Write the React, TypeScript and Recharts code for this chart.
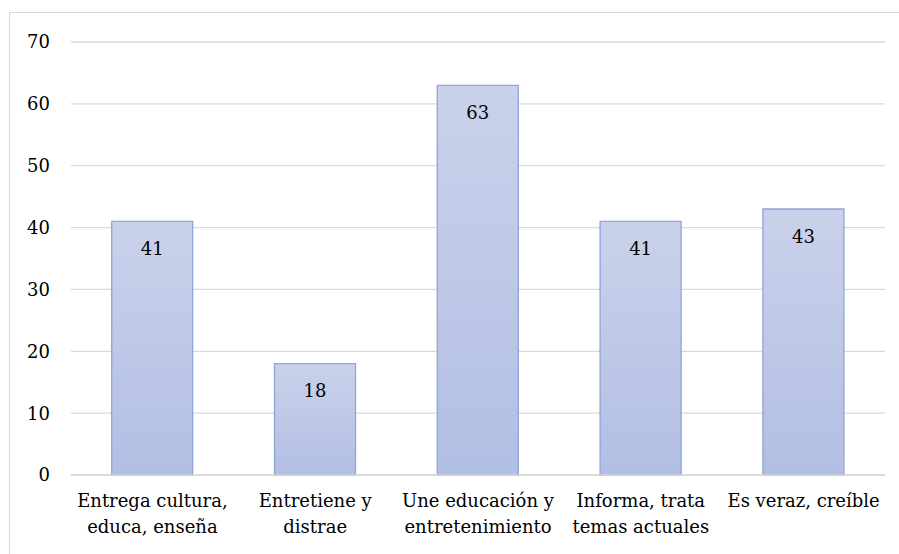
import React from "react";
import { BarChart, Bar, XAxis, YAxis, CartesianGrid, LabelList } from "recharts";

// Category labels; "\n" marks where each label breaks onto a second line
const categories: string[] = [
  "Entrega cultura,\neduca, enseña",
  "Entretiene y\ndistrae",
  "Une educación y\nentretenimiento",
  "Informa, trata\ntemas actuales",
  "Es veraz, creíble",
];
const values: number[] = [41, 18, 63, 41, 43];
const yTicks: number[] = [0, 10, 20, 30, 40, 50, 60, 70];

const data = categories.map((name, i) => ({ name, value: values[i] }));

const FONT = "DejaVu Serif";
const FONT_SIZE = 18;

const CategoryTick = (props: any) => {
  const { x, y, payload } = props;
  const lines = String(payload.value).split("\n");
  return (
    <g transform={`translate(${x},${y})`}>
      {lines.map((line: string, i: number) => (
        <text
          key={i}
          x={0}
          y={i * 26}
          dy="0.75em"
          textAnchor="middle"
          fill="#000"
          fontFamily={FONT}
          fontSize={FONT_SIZE}
        >
          {line}
        </text>
      ))}
    </g>
  );
};

export default function App() {
  return (
    <div
      style={{
        position: "absolute",
        left: 0,
        top: 0,
        width: 899,
        height: 554,
        overflow: "hidden",
        background: "#fff",
      }}
    >
      <div
        style={{
          position: "absolute",
          left: 9,
          top: 12,
          width: 900,
          height: 560,
          border: "1.5px solid #d9d9d9",
          boxSizing: "border-box",
        }}
      />
      <div style={{ position: "absolute", left: 0, top: 0 }}>
        <BarChart
          width={899}
          height={554}
          data={data}
          margin={{ top: 42, right: 14, bottom: 49, left: 11 }}
          barCategoryGap="25%"
        >
          <defs>
            <linearGradient id="barFill" x1="0" y1="0" x2="0" y2="1">
              <stop offset="0%" stopColor="#cad1ea" />
              <stop offset="100%" stopColor="#b2bfe4" />
            </linearGradient>
          </defs>
          <CartesianGrid vertical={false} stroke="#d9d9d9" strokeWidth={1.3} />
          <XAxis
            dataKey="name"
            axisLine={{ stroke: "#d9d9d9", strokeWidth: 1.3 }}
            tickLine={false}
            tickSize={0}
            tickMargin={18}
            interval={0}
            tick={<CategoryTick />}
          />
          <YAxis
            domain={[0, 70]}
            ticks={yTicks}
            axisLine={false}
            tickLine={false}
            tickSize={0}
            tickMargin={21}
            width={60}
            tick={{ fill: "#000", fontSize: FONT_SIZE, fontFamily: FONT }}
          />
          <Bar
            dataKey="value"
            fill="url(#barFill)"
            stroke="#91a3d9"
            strokeWidth={1.3}
            isAnimationActive={false}
          >
            <LabelList
              dataKey="value"
              position="insideTop"
              offset={21}
              fill="#000"
              fontSize={FONT_SIZE}
              fontFamily={FONT}
            />
          </Bar>
        </BarChart>
      </div>
    </div>
  );
}
